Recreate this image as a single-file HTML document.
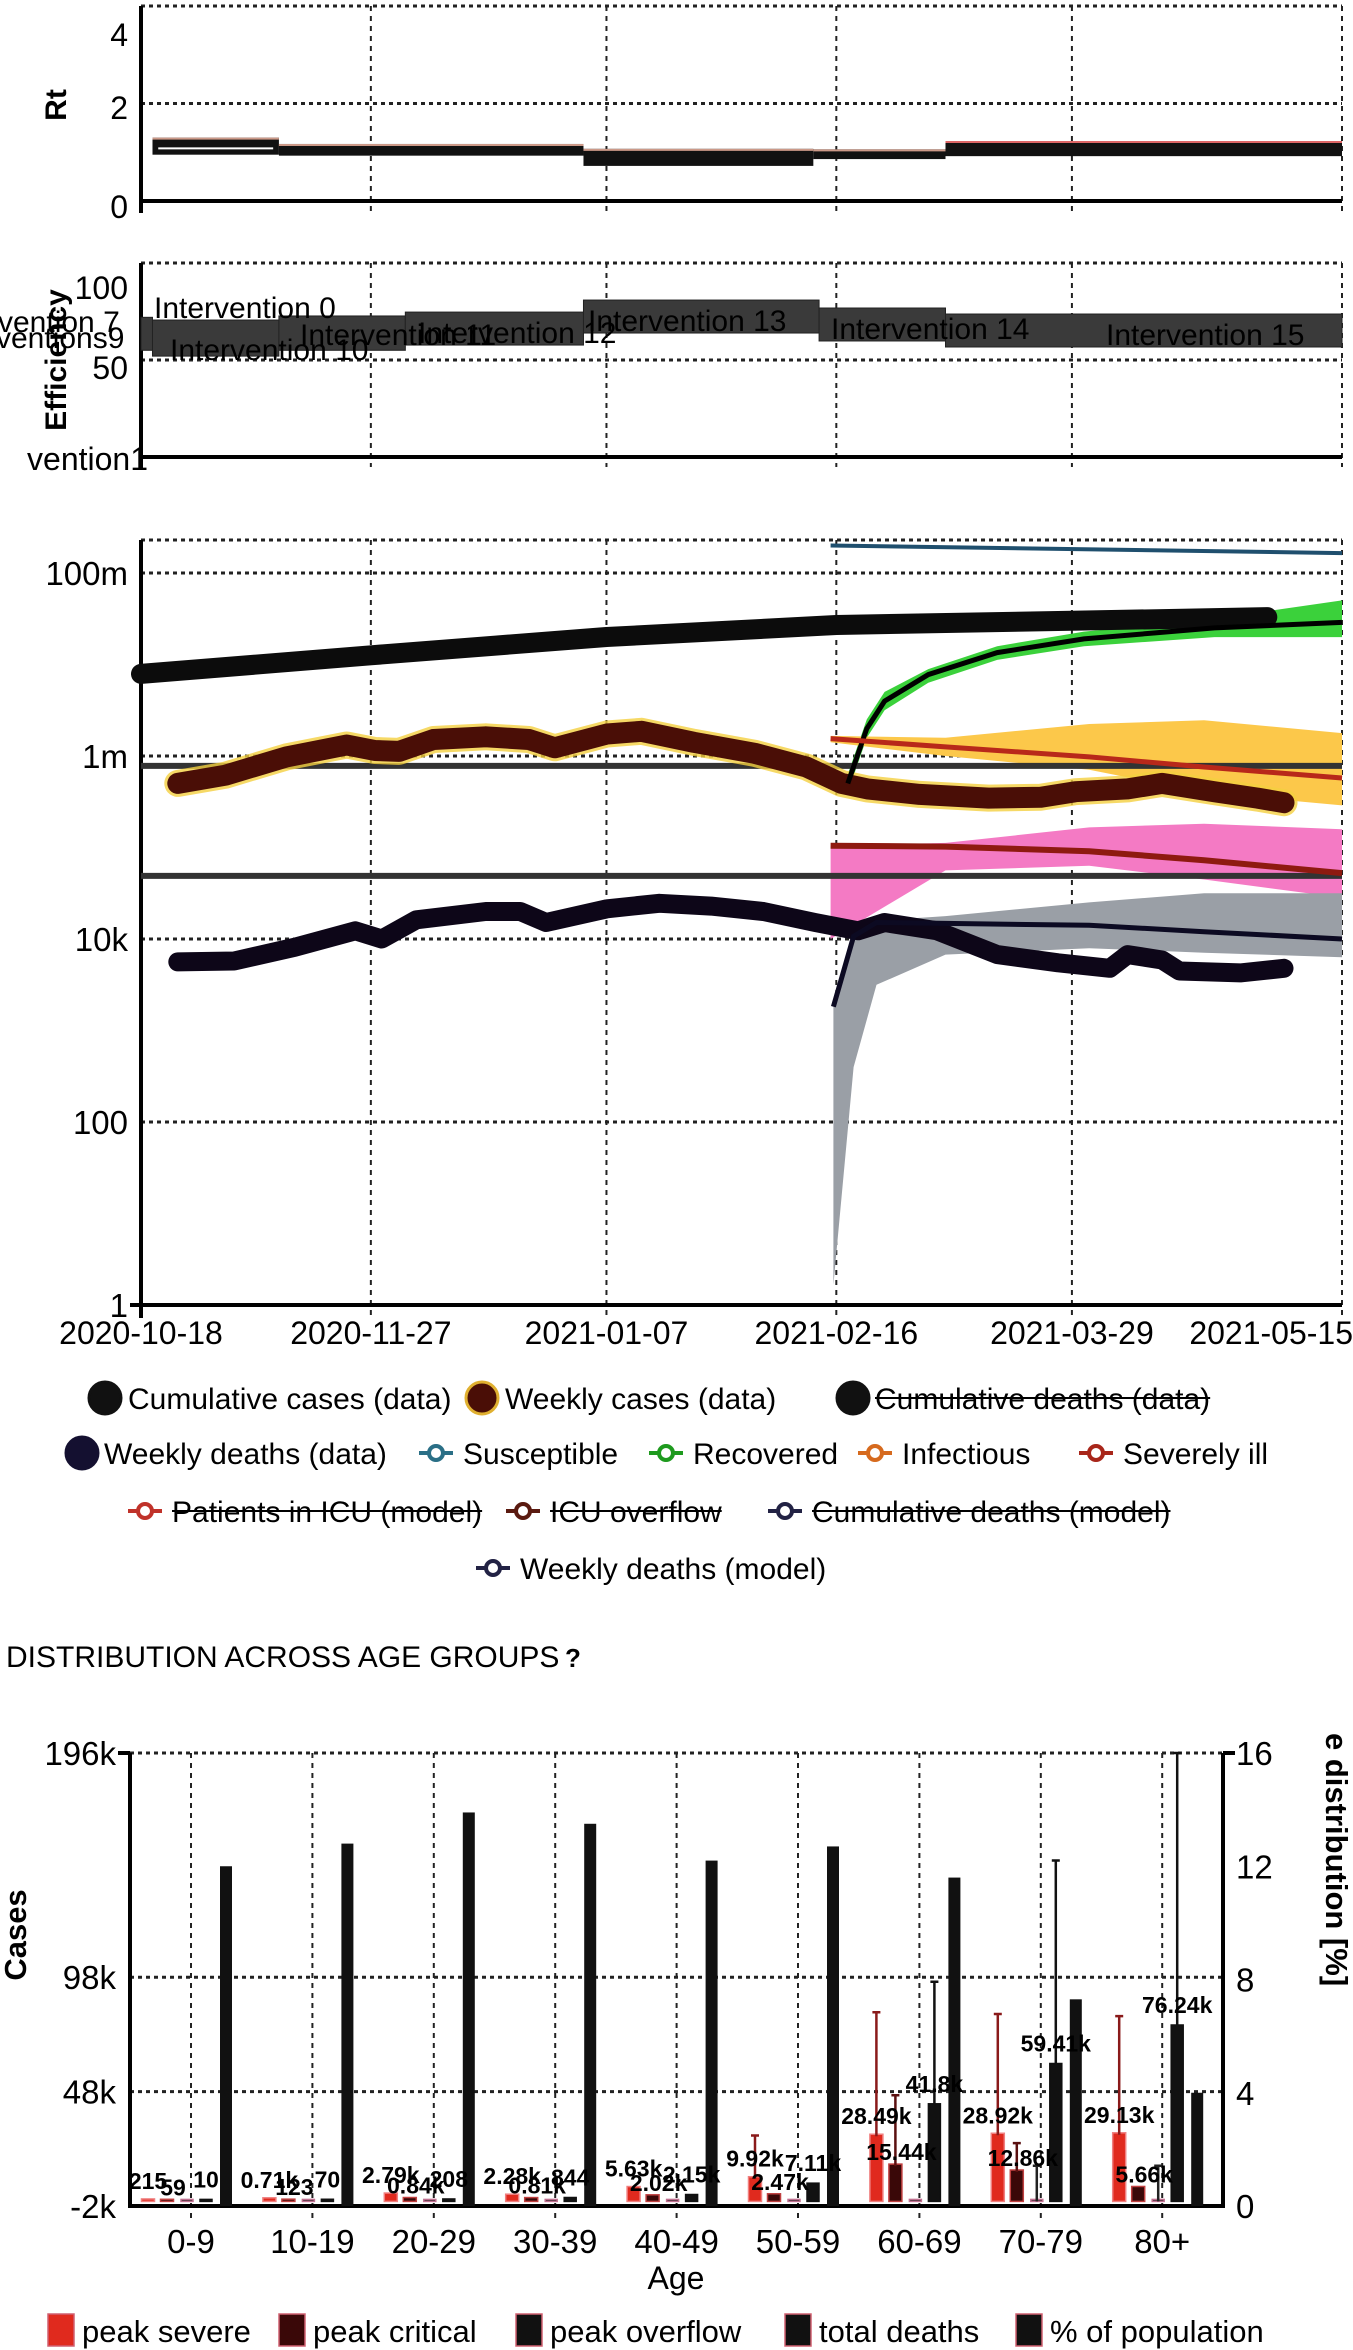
<!DOCTYPE html>
<html><head><meta charset="utf-8"><style>
html,body{margin:0;padding:0;background:#fff;}
svg{display:block;font-family:"Liberation Sans",sans-serif;}
</style></head><body>
<svg id="s" width="1353" height="2350" viewBox="0 0 1353 2350" xmlns="http://www.w3.org/2000/svg"></svg>
<script>
// ---------- data ----------
const dateTickDays=[0,40,81,121,162,209];
const dateTickLabels=["2020-10-18","2020-11-27","2021-01-07","2021-02-16","2021-03-29","2021-05-15"];
const rtStart=[2,24,77,117,140];
const rtEnd=[24,77,117,140,209];
const rtLow=[0.95,0.93,0.72,0.86,0.92];
const rtHigh=[1.3,1.17,1.07,1.06,1.23];
const effStart=[0,2,24,46,77,118,140];
const effEnd=[2,24,46,77,118,140,209];
const effLow=[55,52,55,57.7,63.9,59.8,56.7];
const effHigh=[72,70.6,72.7,74.7,80.9,76.8,73.7];
const cumCasesDays=[0,40,81,121,162,196];
const cumCasesVals=[7.9e6,12.6e6,20e6,27e6,30e6,33e6];
const wkCasesDays=[6.4,14.7,25.3,35.8,40.7,44.9,50.9,60,67.5,72,81.1,87.1,96.2,106.8,115.8,121.9,126.4,135.5,147.5,156.6,162.6,171.7,177.7,186.8,194.3,198.9];
const wkCasesLog=[5.70,5.79,5.99,6.12,6.06,6.05,6.18,6.21,6.18,6.09,6.24,6.27,6.15,6.03,5.88,5.70,5.64,5.58,5.54,5.55,5.61,5.64,5.70,5.61,5.54,5.49];
const wkDeathsDays=[6.4,16.2,26.8,37.3,41.9,47.9,60,66,70.5,81.1,90.2,99.2,108.3,117.3,124.8,129.4,138.5,149,159.6,168.6,171.7,177.7,180.7,191.3,198.9];
const wkDeathsLog=[3.75,3.76,3.91,4.09,4.00,4.21,4.30,4.30,4.18,4.33,4.39,4.36,4.30,4.18,4.09,4.18,4.09,3.83,3.74,3.68,3.83,3.77,3.65,3.63,3.68];
const suscDays=[120,209];
const suscVals=[2.0e8,1.65e8];
const recDays=[123,126.3,129.4,137,149,164.1,186.8,209];
const recLog=[5.70,6.30,6.60,6.89,7.13,7.28,7.40,7.46];
const recBandLo=[5.6,6.2,6.5,6.8,7.05,7.2,7.3,7.3];
const recBandHi=[5.8,6.4,6.7,6.95,7.2,7.36,7.5,7.7];
const infDays=[120,140,165,185,209];
const infLog=[6.19,6.10,5.99,5.88,5.76];
const infBandLo=[6.15,6.0,5.85,5.6,5.46];
const infBandHi=[6.22,6.2,6.35,6.39,6.25];
const sevDays=[120,140,165,185,209];
const sevLog=[5.02,5.01,4.96,4.86,4.72];
const sevBandLo=[4.0,4.75,4.8,4.65,4.45];
const sevBandHi=[5.02,5.05,5.22,5.26,5.2];
const wdmDays=[120.5,124,128,140,165,185,209];
const wdmLog=[3.26,4.03,4.18,4.17,4.15,4.08,4.00];
const wdmBandLo=[0.22,2.6,3.5,3.83,3.9,3.85,3.8];
const wdmBandHi=[3.3,4.05,4.2,4.25,4.4,4.5,4.5];
const hLines=[780000,49000];
const ageGroups=["0-9","10-19","20-29","30-39","40-49","50-59","60-69","70-79","80+"];
const peakSevere=[215,710,2790,2280,5630,9920,28490,28920,29130];
const peakSevereTxt=["215","0.71k","2.79k","2.28k","5.63k","9.92k","28.49k","28.92k","29.13k"];
const peakSevereErr=[0,0,0,0,0,28800,82700,81900,81000];
const peakCritical=[59,123,840,810,2020,2470,15440,12860,5660];
const peakCriticalTxt=["59","123","0.84k","0.81k","2.02k","2.47k","15.44k","12.86k","5.66k"];
const peakCriticalErr=[0,0,0,0,0,0,46400,25500,0];
const peakOverflow=[0,0,0,0,0,0,0,0,0];
const peakOverflowErr=[0,0,0,0,0,0,0,15600,15600];
const totalDeaths=[10,70,208,844,2150,7110,41800,59410,76240];
const totalDeathsTxt=["10","70","208","844","2.15k","7.11k","41.8k","59.41k","76.24k"];
const totalDeathsErr=[0,0,0,0,0,0,96000,149000,196000];
const popPct=[12.0,12.8,13.9,13.5,12.2,12.7,11.6,7.3,4.0];
const casesTicks=[-2000,48000,98000,196000];
const casesTickLabels=["-2k","48k","98k","196k"];
const pctTicks=[0,4,8,12,16];

// ---------- helpers ----------
const S=document.getElementById('s');
const NS='http://www.w3.org/2000/svg';
function mk(tag,attrs,parent){const e=document.createElementNS(NS,tag);for(const k in attrs)e.setAttribute(k,attrs[k]);(parent||S).appendChild(e);return e;}
function tx(str,attrs,parent){const e=mk('text',attrs,parent);e.textContent=str;return e;}
const X=d=>141+d*(1201/209);
const yRt=v=>201-v*48.75;
const yEff=v=>457-v*1.94;
const yLog=l=>1305-91.5*l;
const yMain=v=>yLog(Math.log10(v));
function pathOf(xs,ys){return xs.map((x,i)=>(i?'L':'M')+x.toFixed(1)+' '+ys[i].toFixed(1)).join(' ');}
function bandOf(xs,lo,hi){let p=pathOf(xs,hi);for(let i=xs.length-1;i>=0;i--)p+=' L'+xs[i].toFixed(1)+' '+lo[i].toFixed(1);return p+' Z';}
const gridStyle={stroke:'#222','stroke-width':2,'stroke-dasharray':'5 5',fill:'none'};
const gridDot={stroke:'#222','stroke-width':3,'stroke-dasharray':'4 4',fill:'none'};

// ---------- vertical gridlines (3 panels) ----------
const panels=[[6,201],[263,457],[540,1305]];
panels.forEach((p,pi)=>{
  dateTickDays.forEach((d,i)=>{
    if(i===0)return;
    const g=mk('line',Object.assign({x1:X(d),x2:X(d),y1:p[0],y2:p[1]+10},gridStyle));
    
    
  });
});
// ---------- Rt panel ----------
[4,2].forEach(v=>{const g=mk('line',Object.assign({x1:141,x2:1342,y1:yRt(v),y2:yRt(v)},gridDot));

});
const rtAxis=mk('path',{d:'M141 6 L141 213 M141 201 L1342 201',stroke:'#000','stroke-width':4,fill:'none'});


[[4,35],[2,108],[0,207]].forEach(t=>{const e=tx(String(t[0]),{x:128,y:t[1]+11,'font-size':32,'text-anchor':'end'});

});
const rtT=tx('Rt',{x:0,y:0,'font-size':30,'font-weight':'bold',transform:'translate(66,105) rotate(-90)','text-anchor':'middle'});


rtStart.forEach((s,i)=>{
  const r=mk('rect',{x:X(s),y:yRt(rtHigh[i]),width:X(rtEnd[i])-X(s),height:yRt(rtLow[i])-yRt(rtHigh[i]),fill:'#111'});
  
  
  const t=mk('line',{x1:X(s),x2:X(rtEnd[i]),y1:yRt(rtHigh[i])+1,y2:yRt(rtHigh[i])+1,stroke:i===4?'#d66':'#c98','stroke-width':2});
  
  
});
const rtw=mk('line',{x1:X(3),x2:X(23),y1:yRt(1.08),y2:yRt(1.08),stroke:'#fff','stroke-width':2});



// ---------- Efficiency panel ----------
[100,50].forEach(v=>{const g=mk('line',Object.assign({x1:141,x2:1342,y1:yEff(v),y2:yEff(v)},gridDot));

});
const effAxis=mk('path',{d:'M141 263 L141 470 M141 457 L1342 457',stroke:'#000','stroke-width':4,fill:'none'});


effStart.forEach((s,i)=>{
  const r=mk('rect',{x:X(s),y:yEff(effHigh[i]),width:X(effEnd[i])-X(s),height:yEff(effLow[i])-yEff(effHigh[i]),fill:'#3a3a3a',stroke:'#222','stroke-width':1});
  
  
});
const effLabels=[["Intervention 0",154,318],["Intervention 11",300,345],["Intervention 10",170,360],["Intervention 12",418,343],["Intervention 13",588,331],["Intervention 14",831,339],["Intervention 15",1106,345],["vention 7",-2,332],["ventions9",-4,348]];
effLabels.forEach(l=>{const e=tx(l[0],{x:l[1],y:l[2],'font-size':30,fill:'#000'});

});
[["100",128,299],["50",128,379],["vention1",148,470]].forEach(t=>{const e=tx(t[0],{x:t[1],y:t[2],'font-size':32,'text-anchor':'end'});

});
const effT=tx('Efficiency',{x:0,y:0,'font-size':30,'font-weight':'bold',transform:'translate(66,360) rotate(-90)','text-anchor':'middle'});



// ---------- Main log chart ----------
[8,6,4,2].forEach(l=>{const g=mk('line',Object.assign({x1:141,x2:1342,y1:yLog(l),y2:yLog(l)},gridDot));

});
const topG=mk('line',Object.assign({x1:141,x2:1342,y1:540,y2:540},gridDot));


const mAxis=mk('path',{d:'M141 540 L141 1318 M130 1305 L1342 1305',stroke:'#000','stroke-width':4,fill:'none'});


[[8,'100m'],[6,'1m'],[4,'10k'],[2,'100'],[0,'1']].forEach(t=>{const e=tx(t[1],{x:128,y:yLog(t[0])+12,'font-size':33,'text-anchor':'end'});

});
dateTickDays.forEach((d,i)=>{const last=i===dateTickDays.length-1;const e=tx(dateTickLabels[i],{x:last?1353:X(d),y:1344,'font-size':32,'text-anchor':last?'end':'middle'});

});
// bands
function band(days,lo,hi,fill,name){const b=mk('path',{d:bandOf(days.map(X),lo.map(yLog),hi.map(yLog)),fill:fill,stroke:'none'});}
band(recDays,recBandLo,recBandHi,'#3bd13b','recovered-band');
band(infDays,infBandLo,infBandHi,'#fcc84a','infectious-band');
band(sevDays,sevBandLo,sevBandHi,'#f47ac4','severely-ill-band');
band(wdmDays,wdmBandLo,wdmBandHi,'#9a9fa6','weekly-deaths-model-band');
// horizontal reference lines
hLines.forEach(v=>{const l=mk('line',{x1:141,x2:1342,y1:yMain(v),y2:yMain(v),stroke:'#333','stroke-width':6});

});
// data series
const cc=mk('path',{d:pathOf(cumCasesDays.map(X),cumCasesVals.map(yMain)),stroke:'#0c0c0c','stroke-width':20,fill:'none','stroke-linecap':'round','stroke-linejoin':'round'});


const wcHalo=mk('path',{d:pathOf(wkCasesDays.map(X),wkCasesLog.map(yLog)),stroke:'#f4d040','stroke-width':27,fill:'none','stroke-linecap':'round','stroke-linejoin':'round',opacity:0.8});


const wc=mk('path',{d:pathOf(wkCasesDays.map(X),wkCasesLog.map(yLog)),stroke:'#4a0e06','stroke-width':21,fill:'none','stroke-linecap':'round','stroke-linejoin':'round'});


const wd=mk('path',{d:pathOf(wkDeathsDays.map(X),wkDeathsLog.map(yLog)),stroke:'#0d0618','stroke-width':19,fill:'none','stroke-linecap':'round','stroke-linejoin':'round'});


// model lines
const su=mk('path',{d:pathOf(suscDays.map(X),suscVals.map(yMain)),stroke:'#1f4f6e','stroke-width':4,fill:'none'});


const re=mk('path',{d:pathOf(recDays.map(X),recLog.map(yLog)),stroke:'#000','stroke-width':5,fill:'none'});


const inf=mk('path',{d:pathOf(infDays.map(X),infLog.map(yLog)),stroke:'#b8281a','stroke-width':5,fill:'none'});


const sev=mk('path',{d:pathOf(sevDays.map(X),sevLog.map(yLog)),stroke:'#8e1a10','stroke-width':6,fill:'none'});


const wdm=mk('path',{d:pathOf(wdmDays.map(X),wdmLog.map(yLog)),stroke:'#0c0a22','stroke-width':5,fill:'none'});



// ---------- main legend ----------
function legendText(str,x,y,strike,name){const e=tx(str,{x:x,y:y+11,'font-size':30});
 if(strike){const w=e.getComputedTextLength?e.getComputedTextLength():str.length*14;const l=mk('line',{x1:x,x2:x+w,y1:y,y2:y,stroke:'#000','stroke-width':2});}}
function bigDot(x,y,fill,stroke,name){const c=mk('circle',{cx:x,cy:y,r:16,fill:fill,stroke:stroke,'stroke-width':3});}
function lineDot(x,y,col,name){const l=mk('line',{x1:x-17,x2:x+17,y1:y,y2:y,stroke:col,'stroke-width':4});
 const c=mk('circle',{cx:x,cy:y,r:7,fill:'#fff',stroke:col,'stroke-width':4});}
bigDot(105,1398,'#111','#111','legend-dot-cumulative-cases');legendText('Cumulative cases (data)',128,1398,false,'legend-cumulative-cases');
bigDot(482,1398,'#4a0e06','#e0b030','legend-dot-weekly-cases');legendText('Weekly cases (data)',505,1398,false,'legend-weekly-cases');
bigDot(853,1398,'#111','#111','legend-dot-cumulative-deaths');legendText('Cumulative deaths (data)',875,1398,true,'legend-cumulative-deaths');
bigDot(82,1453,'#141030','#141030','legend-dot-weekly-deaths');legendText('Weekly deaths (data)',104,1453,false,'legend-weekly-deaths');
lineDot(436,1453,'#2a6f86','legend-dot-susceptible');legendText('Susceptible',463,1453,false,'legend-susceptible');
lineDot(666,1453,'#1e9a1e','legend-dot-recovered');legendText('Recovered',693,1453,false,'legend-recovered');
lineDot(875,1453,'#d66a1e','legend-dot-infectious');legendText('Infectious',902,1453,false,'legend-infectious');
lineDot(1096,1453,'#a8261a','legend-dot-severely-ill');legendText('Severely ill',1123,1453,false,'legend-severely-ill');
lineDot(145,1511,'#c0322a','legend-dot-icu');legendText('Patients in ICU (model)',172,1511,true,'legend-icu');
lineDot(523,1511,'#5a1a10','legend-dot-icu-overflow');legendText('ICU overflow',550,1511,true,'legend-icu-overflow');
lineDot(785,1511,'#222244','legend-dot-cumulative-deaths-model');legendText('Cumulative deaths (model)',812,1511,true,'legend-cumulative-deaths-model');
lineDot(493,1568,'#222244','legend-dot-weekly-deaths-model');legendText('Weekly deaths (model)',520,1568,false,'legend-weekly-deaths-model');

// ---------- Age distribution ----------
const title=tx('DISTRIBUTION ACROSS AGE GROUPS',{x:6,y:1667,'font-size':30});


const help=tx('?',{x:565,y:1667,'font-size':26,'font-weight':'bold'});


const yC=v=>2206-(v+2000)*(453/198000);
const yP=v=>2206-v*(453/16);
const cx=i=>191+i*121.4;
casesTicks.slice(1).forEach(v=>{const g=mk('line',Object.assign({x1:130,x2:1223,y1:yC(v),y2:yC(v)},gridDot));

});
ageGroups.forEach((a,i)=>{const g=mk('line',Object.assign({x1:cx(i),x2:cx(i),y1:1753,y2:2218},gridStyle));


const t=tx(a,{x:cx(i),y:2253,'font-size':33,'text-anchor':'middle'});

});
const bAx=mk('path',{d:'M130 1753 L130 2206 L1223 2206 L1223 1753 M118 1753 L130 1753 M1223 1753 L1235 1753',stroke:'#000','stroke-width':4,fill:'none'});


casesTicks.forEach((v,i)=>{const t=tx(casesTickLabels[i],{x:116,y:yC(v)+12,'font-size':33,'text-anchor':'end'});

});
pctTicks.forEach(v=>{const t=tx(String(v),{x:1236,y:yP(v)+12,'font-size':33});

});
const cT=tx('Cases',{x:0,y:0,'font-size':31,'font-weight':'bold',transform:'translate(26,1935) rotate(-90)','text-anchor':'middle'});


const pT=tx('e distribution [%]',{x:0,y:0,'font-size':31,'font-weight':'bold',transform:'translate(1326,1733) rotate(90)'});


const aT=tx('Age',{x:676,y:2289,'font-size':32,'text-anchor':'middle'});


function bar(x,v,w,fill,stroke){const y0=yC(0),y1=yC(v);const r=mk('rect',{x:x-w/2,y:Math.min(y0,y1)-2,width:w,height:Math.abs(y0-y1)+2,fill:fill,stroke:stroke,'stroke-width':1.5});return r;}
function err(x,lo,hi,col){const p=mk('path',{d:`M${x} ${yC(lo)} L${x} ${yC(hi)} M${x-4} ${yC(hi)} L${x+4} ${yC(hi)}`,stroke:col,'stroke-width':2.5,fill:'none'});return p;}
ageGroups.forEach((a,i)=>{
  const c=cx(i);
  let b=bar(c-43,peakSevere[i],13,'#e02a1e','#f08080');
  
  
  b=bar(c-24,peakCritical[i],13,'#3a0808','#c04040');
  
  
  b=bar(c-4,peakOverflow[i],12,'#111','#c07090');
  
  
  b=bar(c+15,totalDeaths[i],12,'#111','#111');
  
  
  const pr=mk('rect',{x:c+29,y:yP(popPct[i]),width:12,height:yP(0)-yP(popPct[i]),fill:'#111'});
  
  
  if(peakSevereErr[i]){const e=err(c-43,peakSevere[i],peakSevereErr[i],'#8a1a1a');}
  if(peakCriticalErr[i]){const e=err(c-24,peakCritical[i],peakCriticalErr[i],'#5a1010');}
  if(peakOverflowErr[i]){const e=err(c-4,peakOverflow[i],peakOverflowErr[i],'#222');}
  if(totalDeathsErr[i]){const e=err(c+15,totalDeaths[i],totalDeathsErr[i],'#111');}
  let l=tx(peakSevereTxt[i],{x:c-43,y:yC(peakSevere[i])-12,'font-size':23,'font-weight':'bold','text-anchor':'middle'});
  
  
  l=tx(peakCriticalTxt[i],{x:c-18,y:yC(peakCritical[i])-6,'font-size':23,'font-weight':'bold','text-anchor':'middle'});
  
  
  l=tx(totalDeathsTxt[i],{x:c+15,y:yC(totalDeaths[i])-14,'font-size':23,'font-weight':'bold','text-anchor':'middle'});
  
  
});
// bar legend
const bl=[["peak severe",48,'#e02a1e'],["peak critical",279,'#3a0808'],["peak overflow",516,'#111'],["total deaths",785,'#111'],["% of population",1016,'#111']];
bl.forEach(b=>{const r=mk('rect',{x:b[1],y:2314,width:26,height:32,fill:b[2],stroke:'#d06070','stroke-width':1.5});


const t=tx(b[0],{x:b[1]+34,y:2342,'font-size':31});

});
</script>
</body></html>
